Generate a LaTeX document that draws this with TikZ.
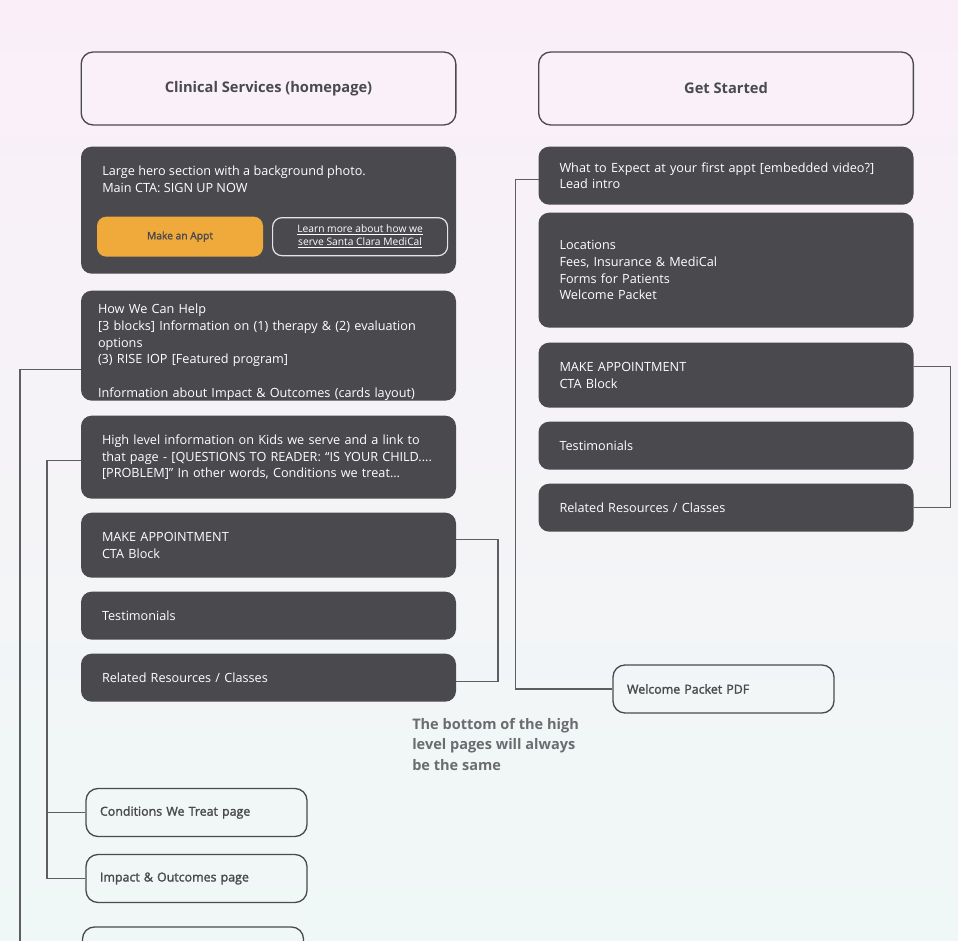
\documentclass[tikz,border=0pt]{standalone}
\usepackage{fontspec}
\setmainfont{Open Sans}
\newfontfamily\semifont{Open Sans}[FakeBold=1.8]
\usetikzlibrary{positioning}

\definecolor{slate}{HTML}{4A494D}
\definecolor{ink}{HTML}{4A4A4E}
\definecolor{wire}{HTML}{5E5E62}
\definecolor{cta}{HTML}{F0A93B}
\definecolor{bgtop}{HTML}{FAEFF9}
\definecolor{bgbot}{HTML}{EFF8F6}
\definecolor{notegray}{HTML}{6A6C6F}

\newcommand{\bodyfont}{\fontsize{9.5pt}{12.5pt}\selectfont}
\newcommand{\titlefont}{\fontsize{11pt}{13pt}\selectfont\bfseries}
\newcommand{\btnfont}{\fontsize{7.7pt}{9.6pt}\selectfont}

\begin{document}
\begin{tikzpicture}[
    x=0.75pt, y=-0.75pt,
    node distance = 10.5pt and 10.5pt,
    pagebox/.style = {rectangle, rounded corners=9pt, draw=ink, line width=1pt,
                      minimum width=281pt, minimum height=54.75pt, text=ink, align=center},
    darkbox/.style = {rectangle, rounded corners=8pt, fill=slate, text=white, outer sep=0pt,
                      text width=249.75pt, inner xsep=15.75pt, inner ysep=0pt,
                      align=left, font=\bodyfont},
    linkbox/.style = {rectangle, rounded corners=9pt, draw=ink, line width=1pt,
                      text width=144.75pt, inner xsep=10.5pt, minimum height=36pt,
                      align=left, text=ink, font=\fontsize{9.3pt}{12pt}\selectfont\semifont},
    ctabutton/.style = {rectangle, rounded corners=7pt, fill=cta, text=ink, outer sep=0pt,
                        minimum width=124.5pt, minimum height=30pt, font=\btnfont\semifont},
    learnbutton/.style = {rectangle, rounded corners=7pt, draw=white!85!slate, line width=0.9pt,
                          text=white, minimum width=131.25pt, minimum height=28.5pt,
                          align=center, font=\btnfont},
    note/.style = {text=notegray, align=left, inner sep=0pt,
                   font=\fontsize{10.9pt}{15.4pt}\selectfont\bfseries},
    wireline/.style = {draw=wire, line width=0.9pt}
]
\useasboundingbox (0,0) rectangle (958,941);
\shade[top color=bgtop, bottom color=bgbot] (0,0) rectangle (958,941);
\clip (0,0) rectangle (958,941);

% Clinical Services column
\node[pagebox] (clinical) at (268.5,88.5) {\titlefont Clinical Services (homepage)};
\node[darkbox, below=15.75pt of clinical, minimum height=95.25pt] (hero) {};
\node[below right=14.5pt and 15.75pt of hero.north west, inner sep=0pt, text=white,
      align=left, font=\bodyfont] (herocopy)
    {Large hero section with a background photo.\\Main CTA: SIGN UP NOW};
\node[ctabutton, above right=12.75pt and 12pt of hero.south west] (apptbtn) {Make an Appt};
\node[learnbutton, right=6.75pt of apptbtn] (learnbtn)
    {\underline{Learn more about how we}\\\underline{serve Santa Clara MediCal}};

\node[darkbox, below=12.75pt of hero, minimum height=82.5pt, inner xsep=12.75pt,
      text width=255.75pt] (help)
    {\rule{0pt}{17pt}How We Can Help\\{[3 blocks]} Information on (1) therapy \& (2) evaluation\\options\\(3) RISE IOP [Featured program]\\[12.5pt]Information about Impact \& Outcomes (cards layout)};
\node[darkbox, below=11.25pt of help, minimum height=62.25pt] (kids)
    {High level information on Kids we serve and a link to\\that page - [QUESTIONS TO READER: ``IS YOUR CHILD....\\{[PROBLEM]}'' In other words, Conditions we treat...};
\node[darkbox, below=of kids, minimum height=48.75pt] (appt) {MAKE APPOINTMENT\\CTA Block};
\node[darkbox, below=of appt, minimum height=36pt] (testi) {Testimonials};
\node[darkbox, below=of testi, minimum height=36pt] (related) {Related Resources / Classes};

% Sub pages
\node[linkbox] (conditions) at (196.5,812.5) {Conditions We Treat page};
\node[linkbox] (impact) at (196.5,878.5) {Impact \& Outcomes page};
\node[linkbox] (nextpage) at (193,951) {};

% Get Started column
\node[pagebox] (getstarted) at (726,88.5) {\titlefont Get Started};
\node[darkbox, below=15.75pt of getstarted, minimum height=43.5pt] (expect)
    {What to Expect at your first appt [embedded video?]\\Lead intro};
\node[darkbox, below=6pt of expect, minimum height=86.25pt] (locations)
    {Locations\\Fees, Insurance \& MediCal\\Forms for Patients\\Welcome Packet};
\node[darkbox, below=11.25pt of locations, minimum height=48.75pt] (rappt) {MAKE APPOINTMENT\\CTA Block};
\node[darkbox, below=of rappt, minimum height=36pt] (rtesti) {Testimonials};
\node[darkbox, below=of rtesti, minimum height=36pt] (rrelated) {Related Resources / Classes};

\node[linkbox] (welcomepdf) at (723.5,689) {Welcome Packet PDF};

% Note
\node[note, anchor=north west] (bottomnote) at (412,718)
    {The bottom of the high\\level pages will always\\be the same};

% Connectors
\draw[wireline] ([yshift=-18pt]help.west) -- ++(-61,0) |- (nextpage.west);
\draw[wireline] ([yshift=-2.6pt]kids.west) -- ++(-34,0) coordinate (kidsbus) |- (impact.west);
\draw[wireline] (conditions.west) -- (conditions.west -| kidsbus);
\draw[wireline] ([yshift=4pt]appt.east) -- ++(42,0) |- ([yshift=-3pt]related.east);
\draw[wireline] ([yshift=6.4pt]rappt.east) -- ++(37,0) |- (rrelated.east);
\draw[wireline] ([yshift=-3pt]expect.west) -- ++(-23,0) |- (welcomepdf.west);

\end{tikzpicture}
\end{document}
